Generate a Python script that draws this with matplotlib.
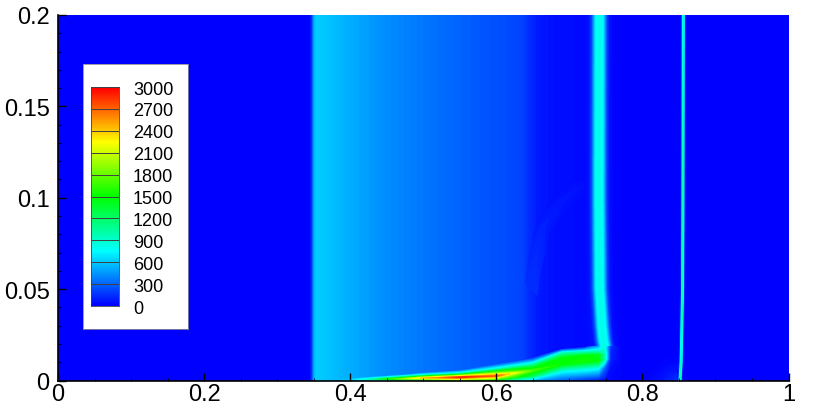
import numpy as np
import matplotlib
matplotlib.use('Agg')
import matplotlib.pyplot as plt
from matplotlib.colors import LinearSegmentedColormap
from matplotlib.ticker import MultipleLocator

plt.rcParams['font.family'] = ['Liberation Sans', 'DejaVu Sans']

# colour legend
legend_levels = [0, 300, 600, 900, 1200, 1500, 1800, 2100, 2400, 2700, 3000]

# field behind everything, same at every height
base_x = [0, .344, .347, .350, .353, .36, .40, .45, .50, .55, .60, .635, .645, .655, .68, .72, .76, .80, 1]
base_t = [0, 0, 150, 500, 620, 600, 510, 420, 350, 290, 240, 205, 130, 85, 50, 30, 15, 5, 0]
base_y = [0, .2]

# shock near x=0.74
band_y = [.019, .022, .03, .05, .1, .2]
band_c = [.748, .7465, .7445, .7415, .7405, .741]
band_dx = [-.02, -.0135, -.010, -.0075, -.005, -.002, 0, .002, .005, .0075, .010, .0135, .02]
band_t = [30, 60, 200, 450, 700, 800, 830, 800, 700, 450, 200, 50, 15]

# thin line near x=0.855
line_y = [0, .004, .01, .05, .1, .2]
line_c = [.8515, .852, .853, .855, .8555, .856]
line_dx = [-.0035, -.002, -.001, 0, .001, .002, .0035]
line_t = [8, 120, 650, 1000, 650, 120, 3]

# faint arc
arc_x = [.648, .652, .664, .688, .711, .729]
arc_y = [.05, .0625, .084, .0975, .1057, .108]
arc_edge = [125, 105, 70, 45, 33, 25]
arc_core = [140, 125, 95, 72, 60, 42]

# hot layer along the wall, rows go from wall to top
hot_x = [.38, .40, .43, .47, .50, .55, .60, .65, .69, .72, .74, .748, .756, .77]
hot_y = [
    [0] * 14,
    [.0002, .0002, .0003, .0005, .0007, .0009, .0012, .0025, .0050, .0065, .0070, .0070, .0070, .0070],
    [.0003, .0004, .0007, .0010, .0014, .0018, .0025, .0055, .0090, .0105, .0110, .0115, .0120, .0120],
    [.0004, .0007, .0011, .0016, .0022, .0029, .0045, .0075, .0120, .0135, .0140, .0140, .0140, .0140],
    [.0005, .0009, .0015, .0023, .0030, .0040, .0065, .0098, .0148, .0160, .0165, .0165, .0165, .0165],
    [.0007, .0012, .0020, .0030, .0042, .0055, .0088, .0124, .0172, .0182, .0190, .0190, .0190, .0190],
]
hot_t = [
    [550, 480, 500, 800, 1000, 1400, 1200, 500, 250, 120, 60, 40, 20, 12],
    [550, 540, 750, 1300, 1800, 2300, 2000, 1200, 750, 850, 800, 300, 40, 12],
    [550, 600, 1000, 1900, 2400, 2900, 2700, 1700, 1500, 1550, 1500, 1000, 100, 12],
    [550, 570, 800, 1300, 1600, 1800, 1700, 1300, 1500, 1500, 1400, 1000, 110, 12],
    [550, 530, 650, 800, 800, 800, 800, 700, 1000, 800, 800, 900, 120, 12],
    [550, 510, 455, 385, 350, 290, 240, 105, 60, 30, 400, 830, 150, 12],
]

# weak fan at the foot of the thin line
fan_x = [.80, .82, .835, .848]
fan_y = [0, .004, .009, .015]
fan_t = [[5, 40, 90, 130], [5, 20, 60, 90], [5, 10, 20, 30], [5, 5, 5, 5]]

cmap = LinearSegmentedColormap.from_list('rainbow_small', [
    (0, (0, 0, 1)), (.25, (0, 1, 1)), (.5, (0, 1, 0)), (.75, (1, 1, 0)), (1, (1, 0, 0))])
fine = np.linspace(0, 3000, 241)


def fill(ax, x, y, t):
    return ax.contourf(x, y, t, levels=fine, cmap=cmap, extend='both')


fig = plt.figure(figsize=(8.3, 4.06), dpi=100)
ax = fig.add_axes([58 / 830, 1 - 381.5 / 406, 730.5 / 830, 365.5 / 406])
ax.set_facecolor((0, 0, 1))

fill(ax, base_x, base_y, [base_t, base_t])

# arc is a strip with three rows across it
ax_x = np.array(arc_x)
ax_y = np.array(arc_y)
fill(ax, np.array([ax_x + .008, ax_x, ax_x - .008]),
     np.array([ax_y - .0033, ax_y, ax_y + .0033]),
     np.array([arc_edge, arc_core, arc_edge]))

fill(ax, fan_x, fan_y, fan_t)
fill(ax, np.tile(hot_x, (len(hot_y), 1)), np.array(hot_y), np.array(hot_t))

bx = np.array(band_c)[:, None] + np.array(band_dx)[None, :]
fill(ax, bx, np.tile(np.array(band_y)[:, None], (1, len(band_dx))), np.tile(band_t, (len(band_y), 1)))

lx = np.array(line_c)[:, None] + np.array(line_dx)[None, :]
fill(ax, lx, np.tile(np.array(line_y)[:, None], (1, len(line_dx))), np.tile(line_t, (len(line_y), 1)))

ax.set_xlim(0, 1)
ax.set_ylim(0, .2)
ax.xaxis.set_minor_locator(MultipleLocator(.05))
ax.yaxis.set_minor_locator(MultipleLocator(.01))
ax.set_yticks([0, .05, .1, .15, .2], ['0', '0.05', '0.1', '0.15', '0.2'], fontsize=17)
ax.set_xticks([0, .2, .4, .6, .8, 1], ['0', '0.2', '0.4', '0.6', '0.8', '1'], fontsize=17)
ax.tick_params(which='major', direction='in', length=5.5, width=1)
ax.tick_params(axis='x', which='major', pad=2)
ax.tick_params(axis='y', which='major', pad=6)
ax.tick_params(which='minor', direction='in', length=2.5, width=.6)
ax.spines['top'].set_visible(False)
ax.spines['right'].set_visible(False)
ax.spines['left'].set_linewidth(1.2)
ax.spines['bottom'].set_linewidth(1.2)
for tick in ax.xaxis.get_major_ticks() + ax.yaxis.get_major_ticks():
    tick.tick1line.set_clip_on(False)

# legend box
box = fig.add_axes([83 / 830, 1 - 330 / 406, 105 / 830, 265 / 406])
box.set_xticks([])
box.set_yticks([])
for s in box.spines.values():
    s.set_color('#8a8a9a')
    s.set_linewidth(.6)

bar = fig.add_axes([91 / 830, 1 - 307 / 406, 27.5 / 830, 219 / 406])
grad = np.array([[v, v] for v in np.linspace(0, 3000, 301)])
bar.imshow(grad, origin='lower', aspect='auto', cmap=cmap, vmin=0, vmax=3000, extent=[0, 1, 0, 3000])
bar.hlines(legend_levels, 0, 1, color='#404040', lw=.7)
bar.set_xticks([])
bar.yaxis.tick_right()
bar.set_yticks(legend_levels, [str(v) for v in legend_levels], fontsize=13)
bar.tick_params(axis='y', length=0, pad=10.5)
for s in bar.spines.values():
    s.set_linewidth(.6)
    s.set_color('#404050')

fig.savefig('out.png', dpi=100)
